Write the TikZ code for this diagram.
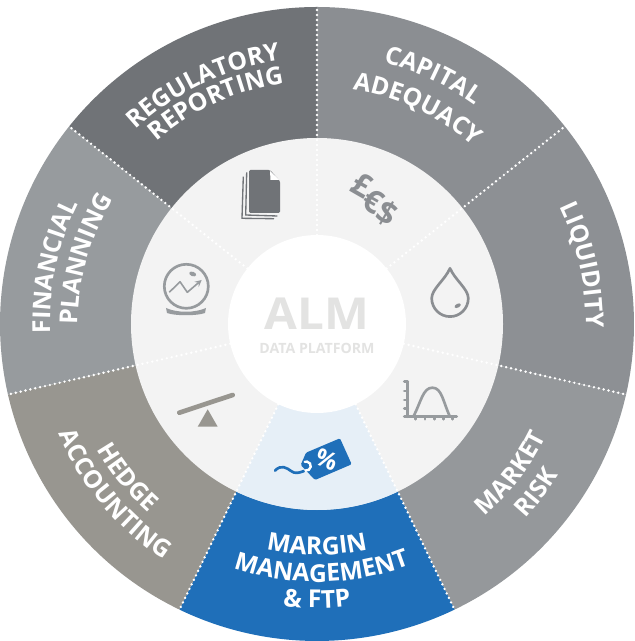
\documentclass[tikz,border=0pt]{standalone}
\usepackage{fontspec}
\usetikzlibrary{decorations.text}
\setmainfont{Open Sans}

\definecolor{regulatorygrey}{HTML}{707377}
\definecolor{capitalgrey}{HTML}{8B8E92}
\definecolor{liquiditygrey}{HTML}{8D9094}
\definecolor{marketgrey}{HTML}{95989B}
\definecolor{marginblue}{HTML}{1F6FB9}
\definecolor{hedgegrey}{HTML}{989690}
\definecolor{planninggrey}{HTML}{979B9E}
\definecolor{ringgrey}{HTML}{F3F3F3}
\definecolor{marginpale}{HTML}{E6EFF7}
\definecolor{almgrey}{HTML}{E3E3E2}

\tikzset{
    ringdots/.style = {white, line width = 2pt, line cap = round, dash pattern = on 0pt off 3.75pt},
    iconline/.style = {line width = 2pt, line cap = round, line join = round},
    currencysign/.style = {text = capitalgrey, font = \fontsize{24}{26}\selectfont\bfseries, rotate = -30, inner sep = 0pt}
}

\newcommand{\ringlabel}[4]{
    \path[decorate, decoration = {text along path, text align = center, text color = white,
        text = {|\fontsize{18.5}{20}\selectfont\bfseries|#4}}]
        (#1:#3) arc[start angle = #1, end angle = #2, radius = #3];
}

\begin{document}
\begin{tikzpicture}[x=0.75pt, y=0.75pt]

                    \useasboundingbox (-317,-317) rectangle (317,324);
                    \fill[white] (-317,-317) rectangle (317,324);

                    \foreach \a/\c in {90/regulatorygrey, 38.57/capitalgrey, -12.86/liquiditygrey, -64.29/marketgrey, -115.71/marginblue, -167.14/hedgegrey, -218.57/planninggrey}
                        \fill[\c] (0,0) -- (\a+51.43:317) arc[start angle = \a+51.43, end angle = \a, radius = 317] -- cycle;

                    \fill[ringgrey] (0,0) circle (186);
                    \fill[marginpale] (0,0) -- (-64.29:186) arc[start angle = -64.29, end angle = -115.71, radius = 186] -- cycle;

                    \foreach \a in {90, 38.57, -12.86, -64.29, -115.71, -167.14, -218.57}
                        \draw[ringdots] (\a:89) -- (\a:317);

                    \fill[white] (0,0) circle (89);

                    \node[text = almgrey, font = \fontsize{33}{34}\selectfont\bfseries, xscale = 1.08] (almtitle) at (0,10.5) {ALM};
                    \node[text = almgrey, font = \fontsize{10.6}{12}\selectfont\bfseries] (almsubtitle) at (0,-24) {DATA PLATFORM};

                    \ringlabel{160.5}{70.5}{266}{REGULATORY}
                    \ringlabel{159.5}{69.5}{243}{REPORTING}
                    \ringlabel{110}{20}{270}{CAPITAL}
                    \ringlabel{110}{20}{237}{ADEQUACY}
                    \ringlabel{50}{-25}{269}{LIQUIDITY}
                    \ringlabel{-85}{10}{255}{MARKET}
                    \ringlabel{-85}{10}{285}{RISK}
                    \ringlabel{-130}{-50}{231}{MARGIN}
                    \ringlabel{-128.9}{-48.9}{258}{MANAGEMENT}
                    \ringlabel{-130}{-50}{284}{{\&} FTP}
                    \ringlabel{-186}{-96}{253}{HEDGE}
                    \ringlabel{-185}{-95}{281}{ACCOUNTING}
                    \ringlabel{205.7}{129.7}{267}{FINANCIAL}
                    \ringlabel{202.3}{126.3}{239}{PLANNING}

                    \draw[regulatorygrey, line width = 1pt] (-70.3,151.7) -- (-71.3,109) -- (-39.7,108);
                    \draw[regulatorygrey, line width = 1pt] (-73.7,147.3) -- (-75,105.7) -- (-43,105.3);
                    \fill[regulatorygrey, rounded corners = 1] (-68,154) -- (-47,154) -- (-37,143) -- (-37,111) -- (-68,111) -- cycle;
                    \fill[white] (-47,153) -- (-37.5,144) -- (-46.5,144) -- cycle;

                    \node[currencysign] (pound) at (44.7,139) {£};
                    \node[currencysign] (euro) at (56,122.3) {€};
                    \node[currencysign] (dollar) at (69.7,110.7) {\$};

                    \draw[capitalgrey, iconline] (133,55.7) .. controls (128,44) and (114.7,35) .. (114.7,25.7) arc[start angle = 180, end angle = 360, radius = 18.3] .. controls (151.3,35) and (138,44) .. cycle;
                    \fill[capitalgrey, rotate around = {28:(140.7,18.3)}] (140.7,18.3) ellipse (3.4 and 1.9);

                    \draw[planninggrey, iconline] (90.7,-57.7) -- (90.7,-92.7);
                    \draw[planninggrey, iconline] (87.3,-92.7) -- (139.7,-92.7);
                    \foreach \y in {-57.7, -67, -76, -84.3}
                        \draw[planninggrey, iconline] (87.3,\y) -- (90.7,\y);
                    \foreach \x in {98.7, 108, 117.3, 126.3, 135.3}
                        \draw[planninggrey, iconline] (\x,-92.7) -- (\x,-95.3);
                    \draw[planninggrey, iconline] (96.3,-92.7) .. controls (104,-78) and (106,-63.7) .. (115.3,-63.7) .. controls (125,-63.7) and (126,-78) .. (133,-92.7);

                    \draw[marginblue, iconline] (-42,-146.7) .. controls (-36,-140) and (-30,-144) .. (-26,-147) .. controls (-22,-150) and (-18,-149) .. (-13,-147);
                    \fill[marginblue, rounded corners = 1] (-11,-128.7) -- (23,-114.3) -- (34.7,-140.3) -- (-2,-156) -- (-16.3,-141) -- cycle;
                    \draw[white, line width = 1.8pt, line cap = round] (-11.5,-146.5) arc[start angle = -100, end angle = 110, radius = 4.5];
                    \node[text = white, font = \fontsize{18}{20}\selectfont\bfseries, rotate = -22, inner sep = 0pt] (percent) at (9.5,-136) {\%};

                    \draw[hedgegrey, line width = 3.5pt, line cap = round] (-137.7,-88.7) -- (-84.3,-71);
                    \fill[hedgegrey] (-109.3,-85.3) -- (-119.3,-102.7) -- (-99.3,-102.7) -- cycle;

                    \draw[planninggrey, line width = 2pt] (-130.7,37.7) circle (22);
                    \draw[planninggrey, line width = 1.2pt, line join = round, ->, >=stealth] (-147.7,31.7) -- (-137,42.3) -- (-129.7,31.7) -- (-115.3,44);
                    \fill[planninggrey, rotate around = {-20:(-124.3,50)}] (-124.3,50) ellipse (3.6 and 2.2);
                    \fill[planninggrey] (-151,16) .. controls (-140,11) and (-122,11) .. (-111,16) -- (-112,11) .. controls (-120,8) and (-142,8) .. (-150,11) -- cycle;

\end{tikzpicture}
\end{document}
